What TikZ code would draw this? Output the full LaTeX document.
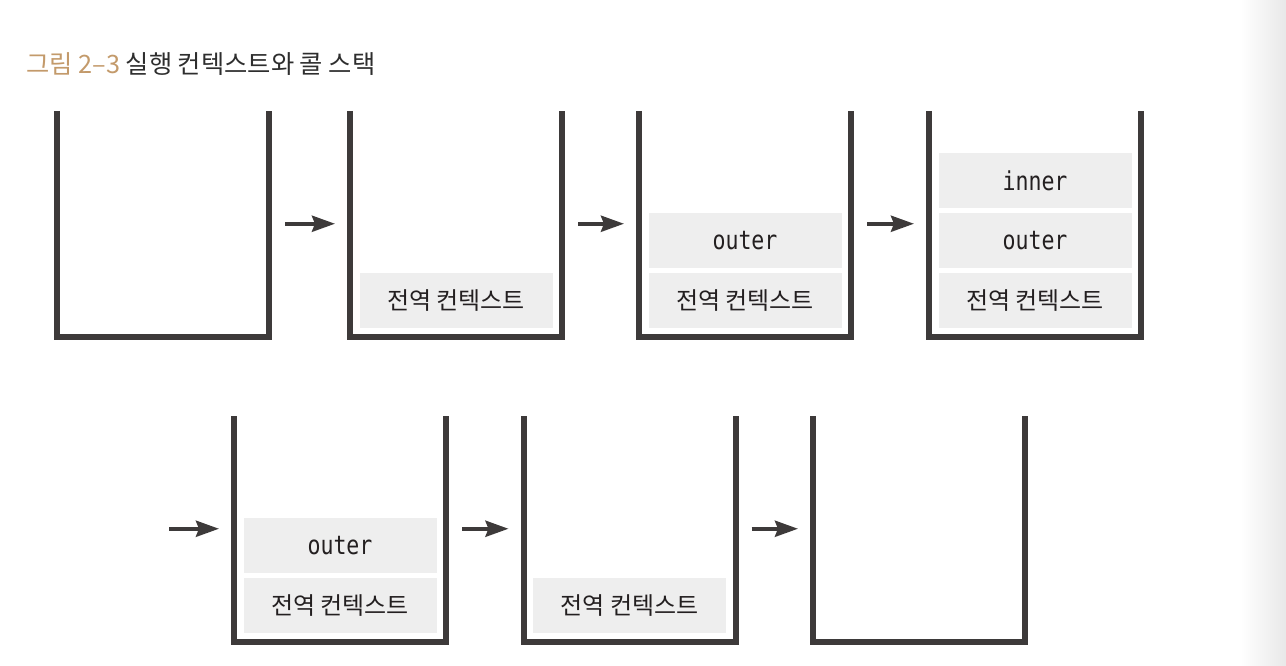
\documentclass[tikz,border=0pt]{standalone}
\usepackage{fontspec}
\setmainfont{Noto Sans CJK KR}
\newfontfamily\labelfont{Noto Sans CJK KR}
\newfontfamily\codefont[FakeStretch=0.83]{DejaVu Sans Mono}
\usetikzlibrary{positioning,arrows.meta}
\definecolor{wallgray}{HTML}{3D3A3A}
\definecolor{boxgray}{HTML}{EEEEEE}
\definecolor{titletan}{HTML}{C39A6B}
\definecolor{titlegray}{HTML}{2E2E2E}
\definecolor{textdark}{HTML}{231F20}

\begin{document}
\begin{tikzpicture}[x=1pt,y=-1pt,
				stack/.style={rectangle,minimum width=212pt,minimum height=225.5pt,inner sep=0pt,outer sep=0pt},
				frame/.style={rectangle,fill=boxgray,minimum width=193pt,minimum height=55pt,inner sep=0pt,outer sep=0pt,text=textdark},
				global/.style={frame,font=\labelfont\fontsize{24}{28}\selectfont},
				fn/.style={frame,font=\codefont\fontsize{26}{30}\selectfont},
				wall/.style={draw=wallgray,line width=6pt,line join=miter},
				push/.style={draw=wallgray,line width=4pt,-{Stealth[length=23pt,width=16pt,inset=3pt]}}]
				\useasboundingbox (0,0) rectangle (1286,666);
				\shade[left color=white,right color=black!9,draw=none] (1240,0) rectangle (1286,666);
				\node (title) [anchor=base west,inner sep=0pt,font=\fontsize{25.3}{30}\selectfont] at (26,73.5)
					{\textcolor{titletan}{그림 2–3} \textcolor{titlegray}{실행 컨텍스트와 콜 스택}};
				% top row
				\node (s1) [stack] at (163,223.75)  {};
				\node (s2) [stack] at (456,223.75)  {};
				\node (s3) [stack] at (745,223.75)  {};
				\node (s4) [stack] at (1035,223.75) {};
				% bottom row
				\node (s5) [stack] at (340,528.75)  {};
				\node (s6) [stack] at (629.5,528.75) {};
				\node (s7) [stack] at (919,528.75)  {};
				
				\node (g2)  [global,above=8.5pt of s2.south] {전역 컨텍스트};
				\node (g3)  [global,above=8.5pt of s3.south] {전역 컨텍스트};
				\node (o3)  [fn,above=5pt of g3]             {outer};
				\node (g4)  [global,above=8.5pt of s4.south] {전역 컨텍스트};
				\node (o4)  [fn,above=5pt of g4]             {outer};
				\node (i4)  [fn,above=5pt of o4]             {inner};
				\node (g5)  [global,above=8.5pt of s5.south] {전역 컨텍스트};
				\node (o5)  [fn,above=5pt of g5]             {outer};
				\node (g6)  [global,above=8.5pt of s6.south] {전역 컨텍스트};
				
				\foreach \i in {1,...,7}
					\draw[wall] (s\i.north west) -- (s\i.south west) -- (s\i.south east) -- (s\i.north east);
				\foreach \a/\b in {1/2,2/3,3/4,5/6,6/7}
					\draw[push] ([xshift=16pt]s\a.east) -- ([xshift=-15pt]s\b.west);
				\coordinate (in) at ([xshift=-65pt]s5.west);
				\draw[push] (in) -- ([xshift=-15pt]s5.west);
			\end{tikzpicture}
\end{document}
